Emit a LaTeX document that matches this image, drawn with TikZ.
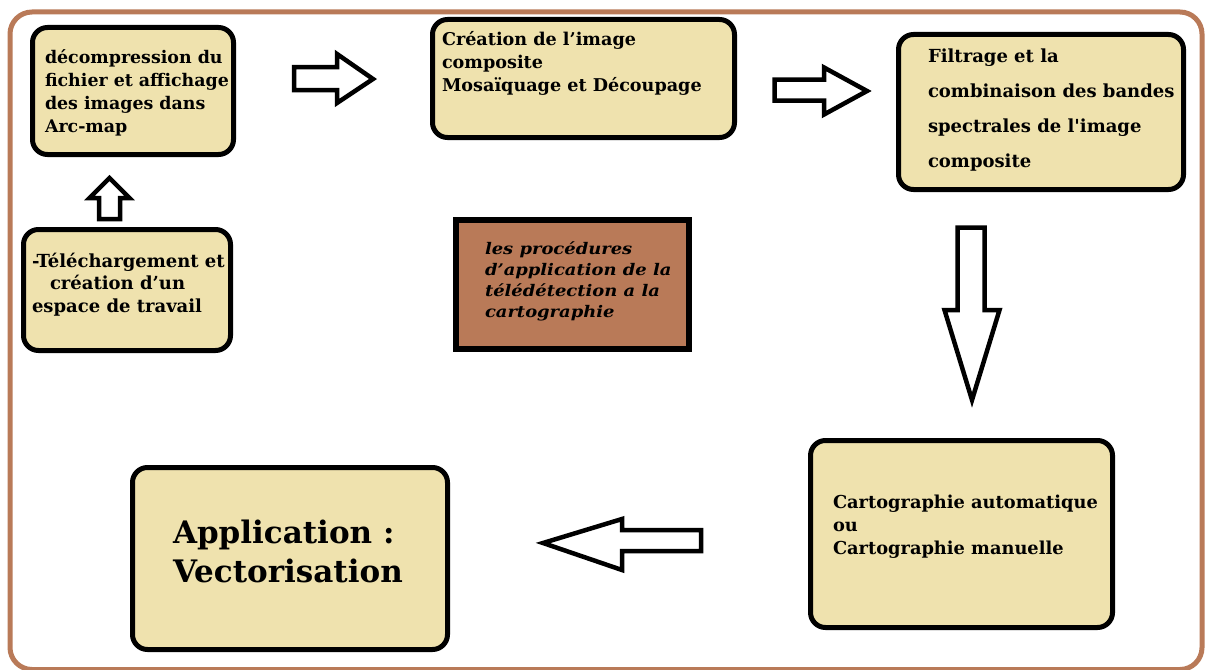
\documentclass[tikz,border=0pt]{standalone}
\usepackage{fontspec}
\setmainfont{DejaVu Serif}[Ligatures=TeXOff]
\definecolor{cream}{HTML}{EFE2AE}
\definecolor{rust}{HTML}{B97A58}
\begin{document}
\begin{tikzpicture}[x=1pt,y=-1pt,
  stepbox/.style={draw=black, line width=5pt, fill=cream, rounded corners=15pt, inner sep=0pt, outer sep=0pt},
  titlebox/.style={draw=black, line width=6pt, fill=rust, inner sep=0pt, outer sep=0pt},
  txt/.style={anchor=north west, inner sep=0pt, outer sep=0pt, align=left,
              font=\bfseries\fontsize{17.4}{23}\selectfont},
  blockarrow/.style={draw=black, line width=4.5pt, fill=white, line join=miter}]
\useasboundingbox (0,0) rectangle (1206,669);
% outer frame
\draw[rust, line width=5pt, rounded corners=22pt] (10,12) rectangle (1202,669.5);

% process boxes
\node[stepbox, minimum width=201, minimum height=127] (b1) at (133,91) {};
\node[stepbox, minimum width=302, minimum height=118] (b2) at (583.5,78.5) {};
\node[stepbox, minimum width=285, minimum height=155] (b3) at (1041,112) {};
\node[stepbox, minimum width=207, minimum height=121] (b4) at (127,290) {};
\node[stepbox, minimum width=302, minimum height=187] (b5) at (961.5,534) {};
\node[stepbox, minimum width=315, minimum height=182] (b6) at (290,558.5) {};
\node[titlebox, minimum width=233, minimum height=129] (t) at (572.5,284.5) {};

% texts
\node[txt] (b1t) at (45,49.5) {décompression du\\fichier et affichage\\des images dans\\Arc-map};
\node[txt, font=\bfseries\fontsize{17.6}{23}\selectfont] (b2t) at (442,31.5) {Création de l’image\\composite\\Mosaïquage et Découpage};
\node[txt, font=\bfseries\fontsize{18}{35}\selectfont] (b3t) at (928,49)
  {Filtrage et la\\combinaison des bandes\\spectrales de l'image\\composite};
\node[txt, font=\bfseries\fontsize{18}{22.5}\selectfont] (b4t) at (32,253)
  {-Téléchargement et\\\hspace*{18pt}création d’un\\espace de travail};
\node[txt, font=\bfseries\fontsize{17.8}{23}\selectfont] (b5t) at (833,494.5) {Cartographie automatique\\ou\\Cartographie manuelle};
\node[txt, font=\bfseries\fontsize{31}{39}\selectfont] (b6t) at (173,520) {Application :\\Vectorisation};
\node[txt, font=\bfseries\itshape\addfontfeatures{FakeStretch=1.12}\fontsize{16}{21}\selectfont] (tt) at (485,241.5)
  {les procédures\\d’application de la\\télédétection a la\\cartographie};

% block arrows between the steps
\draw[blockarrow] (99,219) -- (99,198) -- (89.5,198) -- (109.5,178) -- (129.5,198) -- (120,198) -- (120,219) -- cycle;
\draw[blockarrow] (294,67) -- (337,67) -- (337,54) -- (373,79) -- (337,103) -- (337,90) -- (294,90) -- cycle;
\draw[blockarrow] (774.5,79.5) -- (824,79.5) -- (824,67.5) -- (867,91) -- (824,114.5) -- (824,100.5) -- (774.5,100.5) -- cycle;
\draw[blockarrow] (957.5,227.5) -- (984.5,227.5) -- (984.5,310) -- (999.5,310) -- (972,400) -- (944.5,310) -- (957.5,310) -- cycle;
\draw[blockarrow] (701,530) -- (622,530) -- (622,519) -- (543,543) -- (622,570) -- (622,551) -- (701,551) -- cycle;
\end{tikzpicture}
\end{document}
